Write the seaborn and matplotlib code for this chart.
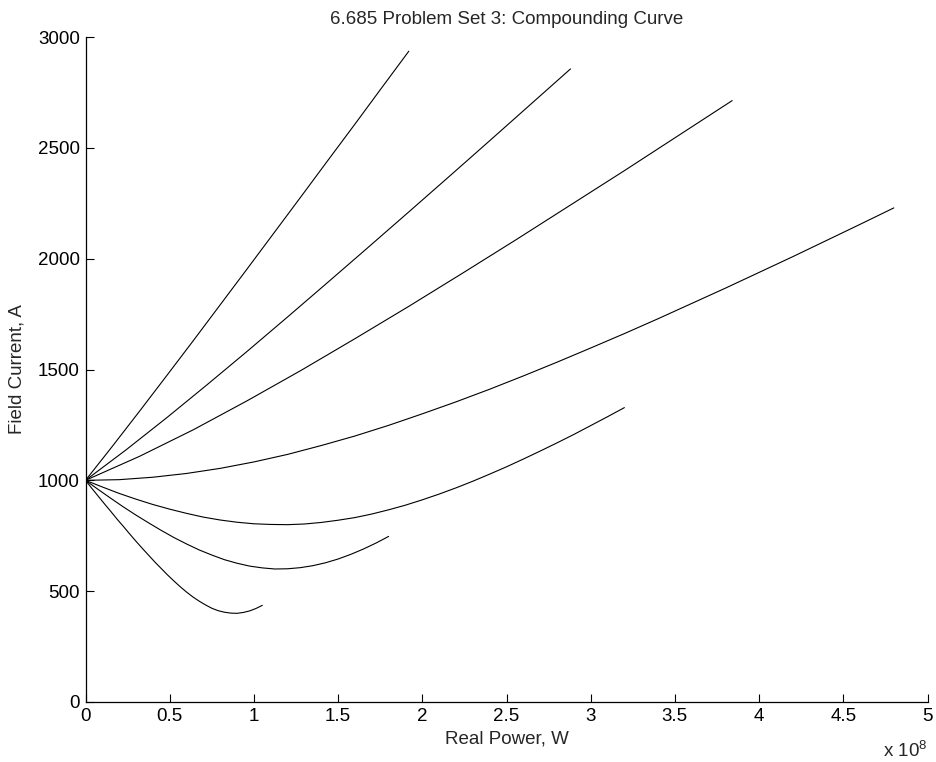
import numpy as np
import pandas as pd
import matplotlib
matplotlib.use("Agg")
import matplotlib.pyplot as plt
import seaborn as sns

# Real power in units of 1e8 W, field current in A
p_lag04 = [0, 0.16, 0.32, 0.48, 0.64, 0.80, 0.96, 1.12, 1.28, 1.44, 1.60, 1.76, 1.92]
i_lag04 = [1000, 1154, 1311, 1470, 1630, 1792, 1954, 2117, 2280, 2444, 2607, 2772, 2936]

p_lag06 = [0, 0.24, 0.48, 0.72, 0.96, 1.20, 1.44, 1.68, 1.92, 2.16, 2.40, 2.64, 2.88]
i_lag06 = [1000, 1137, 1281, 1430, 1582, 1737, 1894, 2052, 2211, 2371, 2532, 2694, 2856]

p_lag08 = [0, 0.32, 0.64, 0.96, 1.28, 1.60, 1.92, 2.24, 2.56, 2.88, 3.20, 3.52, 3.84]
i_lag08 = [1000, 1108, 1228, 1359, 1496, 1639, 1785, 1935, 2087, 2242, 2397, 2555, 2713]

p_unity = [0, 0.2, 0.4, 0.6, 0.8, 1.0, 1.2, 1.4, 1.6, 1.8, 2.0, 2.2, 2.4,
           2.6, 2.8, 3.0, 3.2, 3.4, 3.6, 3.8, 4.0, 4.2, 4.4, 4.6, 4.8]
i_unity = [1000, 1003, 1014, 1031, 1054, 1083, 1117, 1157, 1200, 1248, 1300, 1354, 1411,
           1471, 1533, 1597, 1662, 1729, 1798, 1867, 1938, 2009, 2082, 2155, 2229]

p_lead08 = [0, 0.1, 0.2, 0.3, 0.4, 0.5, 0.6, 0.7, 0.8, 0.9, 1.0, 1.1, 1.2, 1.3, 1.4, 1.5, 1.6,
            1.7, 1.8, 1.9, 2.0, 2.1, 2.2, 2.3, 2.4, 2.5, 2.6, 2.7, 2.8, 2.9, 3.0, 3.1, 3.2]
i_lead08 = [1000, 970, 941, 915, 891, 870, 851, 834, 821, 811, 804, 801, 800, 803, 810, 820, 832,
            848, 867, 888, 912, 938, 966, 996, 1028, 1061, 1096, 1132, 1169, 1207, 1247, 1287, 1328]

p_lead06 = [0, 0.075, 0.15, 0.225, 0.30, 0.375, 0.45, 0.525, 0.60, 0.675, 0.75, 0.825, 0.90,
            0.975, 1.05, 1.125, 1.20, 1.275, 1.35, 1.425, 1.50, 1.575, 1.65, 1.725, 1.80]
i_lead06 = [1000, 959, 919, 880, 843, 808, 774, 742, 713, 686, 663, 642, 626,
            613, 605, 600, 601, 606, 615, 628, 645, 666, 690, 717, 747]

p_lead04 = [0, 0.0375, 0.075, 0.1125, 0.15, 0.1875, 0.225, 0.2625, 0.30, 0.3375, 0.375,
            0.4125, 0.45, 0.4875, 0.525, 0.5625, 0.60, 0.6375, 0.675, 0.7125, 0.75,
            0.7875, 0.825, 0.8625, 0.90, 0.9375, 0.975, 1.0125, 1.05]
i_lead04 = [1000, 964, 929, 894, 860, 825, 792, 758, 725, 693, 662,
            631, 602, 573, 546, 520, 496, 474, 455, 438, 423,
            412, 405, 401, 400, 404, 411, 422, 436]

curves = {
    "pf 0.4 lagging": (p_lag04, i_lag04),
    "pf 0.6 lagging": (p_lag06, i_lag06),
    "pf 0.8 lagging": (p_lag08, i_lag08),
    "pf 1.0": (p_unity, i_unity),
    "pf 0.8 leading": (p_lead08, i_lead08),
    "pf 0.6 leading": (p_lead06, i_lead06),
    "pf 0.4 leading": (p_lead04, i_lead04),
}

x_ticks = [0, 0.5, 1, 1.5, 2, 2.5, 3, 3.5, 4, 4.5, 5]
x_ticklabels = ["0", "0.5", "1", "1.5", "2", "2.5", "3", "3.5", "4", "4.5", "5"]
y_ticks = [0, 500, 1000, 1500, 2000, 2500, 3000]

rows = []
for name, (ps, cs) in curves.items():
    for p, c in zip(ps, cs):
        rows.append({"P": p, "If": c, "curve": name})
df = pd.DataFrame(rows)

sns.set_theme(style="ticks")
plt.rcParams["font.family"] = ["Liberation Sans", "DejaVu Sans"]
plt.rcParams["mathtext.fontset"] = "custom"
plt.rcParams["mathtext.rm"] = "Liberation Sans"
plt.rcParams["xtick.direction"] = "in"
plt.rcParams["ytick.direction"] = "in"

fig = plt.figure(figsize=(9.36, 7.62), dpi=100)
ax = fig.add_axes([85.5 / 936, 1 - 702 / 762, 842 / 936, 665 / 762])

sns.lineplot(data=df, x="P", y="If", hue="curve", palette=["black"] * 7,
             estimator=None, sort=False, legend=False, linewidth=0.8, ax=ax)

ax.set_xlim(0, 5)
ax.set_ylim(0, 3000)
ax.set_xticks(x_ticks)
ax.set_xticklabels(x_ticklabels)
ax.set_yticks(y_ticks)
ax.set_yticklabels([str(v) for v in y_ticks])

for s in ["top", "right"]:
    ax.spines[s].set_visible(False)
for s in ["left", "bottom"]:
    ax.spines[s].set_linewidth(0.9)
    ax.spines[s].set_color("black")

ax.tick_params(axis="both", which="major", direction="in", length=5.8, width=0.8,
               labelsize=13.5, pad=4, colors="black")

ax.set_xlabel("Real Power, W", fontsize=13.5, labelpad=4)
ax.set_ylabel("Field Current, A", fontsize=13.5, labelpad=9)
ax.set_title("6.685 Problem Set 3: Compounding Curve", fontsize=13.5, pad=9)

fig.text(927 / 936, 1 - 757 / 762, r"x 10$^{\mathregular{8}}$", ha="right", va="baseline", fontsize=13.5)

fig.savefig("out.png", dpi=100)
